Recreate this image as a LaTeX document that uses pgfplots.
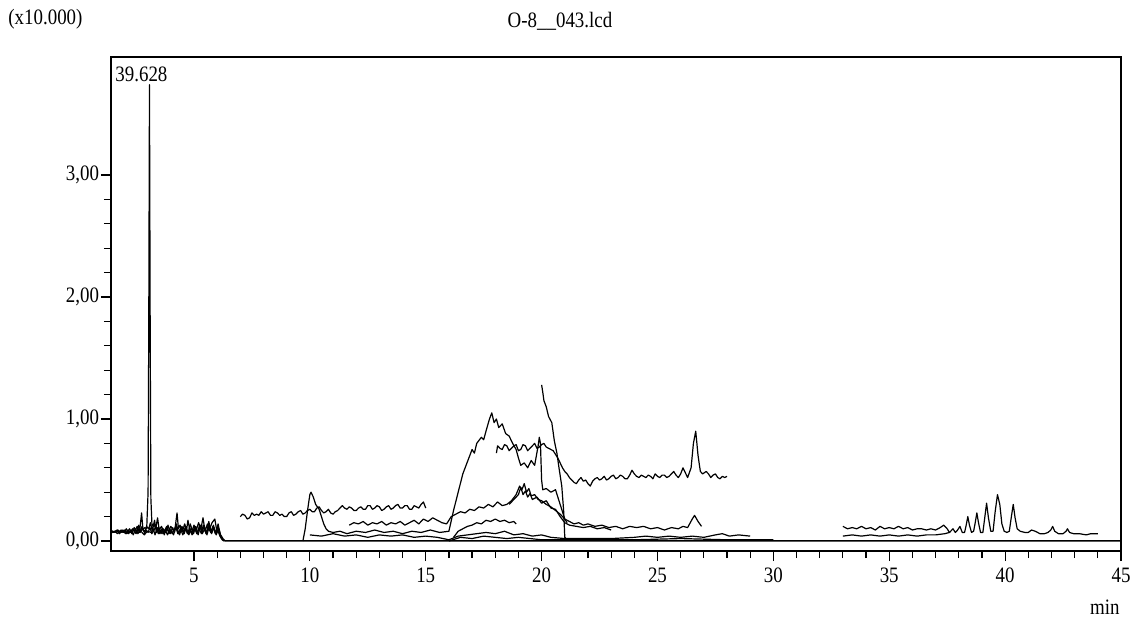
\documentclass[border=0pt]{standalone}
\usepackage{fontspec}
\setmainfont{Liberation Serif}[FakeStretch=0.86]
\usepackage{pgfplots}
\pgfplotsset{compat=1.18}

\begin{document}
\begin{tikzpicture}[font=\fontsize{11bp}{13bp}\selectfont]
\useasboundingbox (-55.5bp,-35bp) rectangle (512.5bp,275.5bp);
\begin{axis}[
    at={(0,0)}, anchor=south west,
    scale only axis,
    width=505bp, height=247bp,
    xmin=1.42, xmax=45,
    ymin=-0.082, ymax=3.967,
    xtick={5,10,...,45},
    minor x tick num=4,
    ytick={0,1,2,3},
    minor y tick num=4,
    tick pos=left,
    tick align=outside,
    major tick length=5bp,
    minor tick length=3.5bp,
    axis line style={line width=0.8bp},
    tick style={line width=0.6bp, black},
    /pgf/number format/assume math mode=true,
    yticklabel style={inner sep=0.8bp, /pgf/number format/.cd, fixed, fixed zerofill, precision=2, use comma},
    no markers,
    cycle list={{black}},
    every axis plot post/.append style={black, mark=none, line width=0.6bp, line join=round},
    clip=true,
]
% left noisy traces with main peak
\addplot[line width=0.8bp] coordinates {
(1.42,0.08) (1.55,0.075) (1.65,0.085) (1.75,0.07) (1.85,0.09) (1.95,0.08) (2.05,0.06) (2.15,0.09)
(2.25,0.07) (2.35,0.10) (2.45,0.08) (2.55,0.12) (2.65,0.07) (2.74,0.23) (2.80,0.09) (2.88,0.11)
(2.96,0.10) (3.02,0.40) (3.05,1.80) (3.08,3.74) (3.11,1.80) (3.14,0.35) (3.19,0.12) (3.27,0.14)
(3.35,0.10) (3.43,0.19) (3.50,0.09) (3.60,0.12) (3.70,0.07) (3.80,0.11) (3.90,0.08) (4.00,0.12)
(4.10,0.09) (4.18,0.10) (4.27,0.23) (4.33,0.10) (4.40,0.13) (4.50,0.08) (4.60,0.14) (4.68,0.09)
(4.74,0.17) (4.82,0.09) (4.90,0.07) (5.00,0.13) (5.10,0.09) (5.20,0.15) (5.30,0.10) (5.39,0.19)
(5.48,0.08) (5.58,0.14) (5.68,0.10) (5.78,0.15) (5.90,0.18) (5.98,0.09) (6.05,0.11) (6.15,0.05)
(6.25,0.02) (6.35,0.00) (45,0.00)
};
\addplot[line width=0.8bp] coordinates {
(1.42,0.09) (1.52,0.07) (1.62,0.08) (1.72,0.09) (1.82,0.07) (1.92,0.09) (2.02,0.08) (2.12,0.07)
(2.22,0.10) (2.32,0.06) (2.42,0.11) (2.52,0.07) (2.62,0.13) (2.70,0.08) (2.80,0.10) (2.88,0.06)
(2.95,0.12) (3.05,0.10) (3.12,0.15) (3.20,0.08) (3.30,0.17) (3.38,0.07) (3.48,0.11) (3.58,0.06)
(3.68,0.10) (3.78,0.07) (3.88,0.13) (3.98,0.06) (4.08,0.11) (4.16,0.07) (4.24,0.14) (4.34,0.06)
(4.44,0.11) (4.54,0.07) (4.64,0.12) (4.74,0.06) (4.84,0.14) (4.94,0.08) (5.04,0.11) (5.14,0.06)
(5.24,0.13) (5.34,0.07) (5.44,0.12) (5.54,0.06) (5.64,0.16) (5.74,0.07) (5.84,0.13) (5.94,0.06)
(6.04,0.14) (6.14,0.05) (6.25,0.01) (6.35,0.00)
};
\addplot[line width=0.8bp] coordinates {
(1.42,0.07) (1.58,0.08) (1.70,0.06) (1.80,0.08) (1.90,0.07) (2.00,0.09) (2.10,0.06) (2.20,0.08)
(2.30,0.07) (2.40,0.09) (2.50,0.06) (2.60,0.10) (2.68,0.07) (2.76,0.12) (2.84,0.08) (2.93,0.09)
(3.02,0.07) (3.10,0.11) (3.18,0.06) (3.28,0.09) (3.36,0.12) (3.46,0.06) (3.56,0.09) (3.66,0.06)
(3.76,0.09) (3.86,0.05) (3.96,0.10) (4.06,0.06) (4.14,0.09) (4.22,0.12) (4.30,0.06) (4.42,0.10)
(4.52,0.05) (4.62,0.10) (4.72,0.06) (4.82,0.09) (4.92,0.05) (5.02,0.11) (5.12,0.06) (5.22,0.10)
(5.32,0.06) (5.40,0.13) (5.52,0.06) (5.62,0.11) (5.72,0.07) (5.82,0.12) (5.92,0.06) (6.02,0.09)
(6.12,0.04) (6.22,0.01) (6.30,0.00)
};
\addplot[line width=0.8bp] coordinates {
(1.42,0.06) (1.50,0.08) (1.60,0.07) (1.68,0.09) (1.78,0.06) (1.88,0.08) (1.98,0.07) (2.08,0.10)
(2.18,0.06) (2.28,0.09) (2.38,0.05) (2.48,0.10) (2.58,0.06) (2.66,0.09) (2.86,0.05) (2.98,0.08)
(3.16,0.07) (3.24,0.10) (3.32,0.05) (3.42,0.11) (3.52,0.06) (3.62,0.10) (3.72,0.05) (3.82,0.12)
(3.92,0.06) (4.02,0.09) (4.12,0.05) (4.20,0.11) (4.38,0.05) (4.48,0.12) (4.58,0.06) (4.66,0.11)
(4.78,0.05) (4.88,0.11) (4.98,0.06) (5.08,0.12) (5.18,0.05) (5.28,0.13) (5.36,0.06) (5.46,0.10)
(5.56,0.05) (5.66,0.12) (5.76,0.06) (5.86,0.11) (5.96,0.05) (6.06,0.10) (6.16,0.03) (6.28,0.00)
};
% trace 7 - 15 min
\addplot coordinates {
(7.0,0.20) (7.1,0.22) (7.2,0.21) (7.3,0.18) (7.4,0.19) (7.5,0.23) (7.6,0.21) (7.7,0.22) (7.8,0.21)
(7.9,0.24) (8.0,0.22) (8.1,0.23) (8.2,0.24) (8.3,0.21) (8.4,0.21) (8.5,0.24) (8.6,0.23) (8.7,0.21)
(8.8,0.22) (8.9,0.20) (9.0,0.20) (9.1,0.23) (9.2,0.24) (9.3,0.21) (9.4,0.22) (9.5,0.24) (9.6,0.25)
(9.7,0.22) (9.8,0.23) (9.9,0.25) (10.0,0.26) (10.1,0.24) (10.2,0.24) (10.3,0.27) (10.4,0.28)
(10.5,0.25) (10.6,0.23) (10.7,0.24) (10.8,0.26) (10.9,0.23) (11.0,0.22) (11.1,0.24) (11.2,0.25)
(11.3,0.27) (11.4,0.29) (11.5,0.27) (11.6,0.26) (11.7,0.28) (11.8,0.27) (11.9,0.25) (12.0,0.25)
(12.1,0.27) (12.2,0.28) (12.3,0.26) (12.4,0.26) (12.5,0.29) (12.6,0.29) (12.7,0.26) (12.8,0.27)
(12.9,0.29) (13.0,0.28) (13.1,0.25) (13.2,0.26) (13.3,0.28) (13.4,0.29) (13.5,0.26) (13.6,0.27)
(13.7,0.29) (13.8,0.30) (13.9,0.27) (14.0,0.27) (14.1,0.29) (14.2,0.29) (14.3,0.26) (14.4,0.26)
(14.5,0.29) (14.6,0.28) (14.7,0.27) (14.8,0.30) (14.9,0.32) (15.0,0.27)
};
% peak at 10 min, then the broad hump
\addplot coordinates {
(9.70,0.00) (9.80,0.10) (9.90,0.25) (10.00,0.38) (10.05,0.40) (10.15,0.36) (10.25,0.30)
(10.40,0.26) (10.50,0.20) (10.60,0.14) (10.70,0.10) (10.80,0.08) (11.0,0.07) (11.3,0.08)
(11.6,0.06) (12.0,0.08) (12.4,0.07) (12.8,0.09) (13.2,0.07) (13.6,0.08) (14.0,0.06) (14.4,0.08)
(14.8,0.07) (15.2,0.09) (15.6,0.07) (16.0,0.08) (16.2,0.25) (16.4,0.40) (16.6,0.55) (16.8,0.65)
(17.0,0.75) (17.1,0.72) (17.2,0.80) (17.4,0.85) (17.5,0.83) (17.6,0.90) (17.75,1.00) (17.85,1.05)
(17.95,0.97) (18.05,1.00) (18.15,0.93) (18.30,0.96) (18.45,0.88) (18.60,0.86) (18.75,0.80)
(18.90,0.75) (19.00,0.68) (19.10,0.62) (19.25,0.64) (19.40,0.60) (19.55,0.66) (19.70,0.62)
(19.85,0.78) (19.90,0.85) (19.95,0.80) (20.00,0.50) (20.05,0.42) (20.20,0.43) (20.40,0.40)
(20.60,0.42) (20.80,0.30) (21.00,0.18) (21.10,0.15)
};
% trace 18 - 28 min
\addplot coordinates {
(18.05,0.72) (18.1,0.78) (18.2,0.76) (18.3,0.75) (18.4,0.79) (18.5,0.78) (18.6,0.74) (18.7,0.76)
(18.8,0.78) (18.9,0.79) (19.0,0.74) (19.1,0.75) (19.2,0.79) (19.3,0.78) (19.4,0.74) (19.5,0.76)
(19.6,0.78) (19.7,0.80) (19.8,0.76) (19.9,0.77) (20.0,0.79) (20.1,0.80) (20.2,0.77) (20.3,0.76)
(20.4,0.75) (20.5,0.74) (20.6,0.71) (20.7,0.68) (20.8,0.64) (20.9,0.60) (21.0,0.57) (21.1,0.55)
(21.2,0.52) (21.3,0.50) (21.4,0.48) (21.5,0.47) (21.6,0.50) (21.7,0.52) (21.8,0.49) (21.9,0.50)
(22.0,0.47) (22.1,0.45) (22.2,0.49) (22.3,0.51) (22.4,0.52) (22.5,0.50) (22.6,0.51) (22.7,0.53)
(22.8,0.50) (22.9,0.51) (23.0,0.53) (23.1,0.54) (23.2,0.51) (23.3,0.52) (23.4,0.54) (23.5,0.53)
(23.6,0.51) (23.7,0.51) (23.8,0.54) (23.9,0.58) (24.0,0.55) (24.1,0.53) (24.2,0.52) (24.3,0.54)
(24.4,0.53) (24.5,0.52) (24.6,0.54) (24.7,0.53) (24.8,0.51) (24.9,0.55) (25.0,0.53) (25.1,0.52)
(25.2,0.54) (25.3,0.54) (25.4,0.52) (25.5,0.53) (25.6,0.55) (25.7,0.57) (25.8,0.54) (25.9,0.52)
(26.0,0.55) (26.1,0.60) (26.2,0.56) (26.3,0.52) (26.45,0.60) (26.55,0.80) (26.65,0.90)
(26.75,0.70) (26.85,0.57) (26.95,0.55) (27.1,0.57) (27.2,0.55) (27.3,0.52) (27.4,0.54)
(27.5,0.55) (27.6,0.52) (27.7,0.51) (27.8,0.53) (27.9,0.52) (28.0,0.53)
};
% steep line after 20 min
\addplot coordinates {
(20.00,1.28) (20.05,1.22) (20.10,1.15) (20.20,1.10) (20.30,1.02) (20.44,0.97) (20.55,0.82)
(20.66,0.72) (20.75,0.60) (20.87,0.45) (20.95,0.25) (21.00,0.03) (21.10,0.01)
};
% trace 11.7 - 26.9 min
\addplot coordinates {
(11.7,0.13) (11.9,0.15) (12.1,0.14) (12.3,0.16) (12.5,0.13) (12.7,0.15) (12.9,0.14) (13.1,0.16)
(13.3,0.13) (13.5,0.15) (13.7,0.14) (13.9,0.16) (14.1,0.13) (14.3,0.15) (14.5,0.17) (14.7,0.14)
(14.9,0.18) (15.1,0.16) (15.3,0.19) (15.5,0.17) (15.7,0.15) (15.9,0.14) (16.1,0.20) (16.3,0.22)
(16.5,0.24) (16.7,0.23) (16.9,0.26) (17.1,0.25) (17.3,0.28) (17.5,0.27) (17.7,0.30) (17.9,0.28)
(18.1,0.32) (18.3,0.29) (18.5,0.30) (18.7,0.33) (18.9,0.38) (19.05,0.45) (19.15,0.42) (19.25,0.47)
(19.35,0.40) (19.45,0.43) (19.55,0.37) (19.70,0.38) (19.85,0.34) (20.0,0.33) (20.2,0.30)
(20.4,0.28) (20.6,0.25) (20.8,0.22) (21.0,0.18) (21.2,0.16) (21.4,0.14) (21.6,0.15) (21.8,0.13)
(22.0,0.14) (22.3,0.12) (22.6,0.13) (22.9,0.11) (23.2,0.12) (23.5,0.10) (23.8,0.12) (24.1,0.11)
(24.4,0.12) (24.7,0.10) (25.0,0.11) (25.3,0.09) (25.6,0.11) (25.9,0.10) (26.1,0.12) (26.3,0.11)
(26.5,0.18) (26.6,0.21) (26.75,0.16) (26.9,0.12)
};
\addplot coordinates {
(18.6,0.30) (18.8,0.34) (19.0,0.38) (19.1,0.44) (19.2,0.38) (19.3,0.41) (19.4,0.36) (19.5,0.39)
(19.6,0.34) (19.8,0.36) (20.0,0.31) (20.2,0.33) (20.4,0.27) (20.6,0.26) (20.8,0.20) (21.0,0.15)
(21.2,0.13) (21.5,0.12) (21.8,0.11) (22.1,0.12) (22.4,0.10) (22.7,0.11) (23.0,0.09)
};
% small hump 16 - 19 min
\addplot coordinates {
(16.2,0.03) (16.4,0.08) (16.6,0.10) (16.8,0.12) (17.0,0.13) (17.2,0.15) (17.4,0.14) (17.6,0.17)
(17.8,0.16) (18.0,0.18) (18.2,0.16) (18.4,0.17) (18.6,0.15) (18.8,0.16) (18.9,0.14)
};
% low traces
\addplot coordinates {
(10.0,0.05) (10.5,0.04) (11.0,0.06) (11.5,0.04) (12.0,0.05) (12.5,0.03) (13.0,0.05) (13.5,0.04)
(14.0,0.05) (14.5,0.03) (15.0,0.04) (15.5,0.03) (16.0,0.01) (16.4,0.04) (16.8,0.05) (17.2,0.06)
(17.6,0.07) (18.0,0.06) (18.4,0.08) (18.8,0.05) (19.2,0.06) (19.6,0.04) (20.0,0.05) (20.4,0.03)
(21.0,0.02) (22.0,0.02) (23.0,0.02) (24.0,0.03) (24.5,0.04) (25.0,0.03) (25.5,0.04) (26.0,0.03)
(26.5,0.04) (27.0,0.03) (27.5,0.05) (27.8,0.06) (28.1,0.04) (28.5,0.05) (29.0,0.04)
};
\addplot coordinates {
(16.0,0.00) (16.5,0.03) (17.0,0.02) (17.5,0.04) (18.0,0.03) (18.5,0.02) (19.0,0.03) (20.0,0.01)
(22.0,0.01) (24.0,0.01) (26.0,0.02) (28.0,0.01) (30.0,0.01)
};
% trace 33 - 44 min
\addplot coordinates {
(33.0,0.12) (33.2,0.10) (33.4,0.11) (33.6,0.10) (33.8,0.12) (34.0,0.10) (34.2,0.11) (34.4,0.09)
(34.6,0.12) (34.8,0.10) (35.0,0.11) (35.2,0.10) (35.4,0.12) (35.6,0.10) (35.8,0.11) (36.0,0.09)
(36.2,0.10) (36.4,0.10) (36.6,0.09) (36.8,0.10) (37.0,0.09) (37.2,0.11) (37.35,0.13) (37.5,0.10)
(37.6,0.07) (37.75,0.10) (37.85,0.07) (37.95,0.09) (38.05,0.12) (38.15,0.07) (38.25,0.07)
(38.32,0.13) (38.39,0.20) (38.46,0.13) (38.55,0.07) (38.64,0.08) (38.71,0.15) (38.78,0.23)
(38.85,0.15) (38.94,0.07) (39.04,0.07) (39.12,0.19) (39.20,0.31) (39.28,0.19) (39.38,0.08)
(39.48,0.08) (39.57,0.24) (39.67,0.38) (39.77,0.30) (39.86,0.14) (39.96,0.08) (40.08,0.07)
(40.18,0.08) (40.27,0.20) (40.35,0.30) (40.43,0.19) (40.52,0.10) (40.65,0.08) (40.85,0.07)
(41.00,0.07) (41.14,0.09) (41.30,0.08) (41.50,0.06) (41.70,0.06) (41.85,0.07) (41.97,0.09)
(42.05,0.12) (42.14,0.08) (42.30,0.06) (42.50,0.06) (42.63,0.08) (42.69,0.10) (42.78,0.07)
(42.95,0.06) (43.2,0.06) (43.5,0.05) (43.7,0.06) (44.0,0.06)
};
\addplot coordinates {
(33.0,0.04) (33.4,0.05) (33.8,0.04) (34.2,0.05) (34.6,0.04) (35.0,0.05) (35.4,0.04) (35.8,0.05)
(36.2,0.04) (36.6,0.05) (37.0,0.05) (37.4,0.06) (37.6,0.07)
};
\addplot[line width=1bp] coordinates {(6.3,0.005) (44,0.005)};
\addplot[gray, line width=1bp] coordinates {(44,0.005) (45,0.005)};
\end{axis}
\node[anchor=west, inner sep=0] at (-51.5bp,266bp) {(x10.000)};
\node[inner sep=0] at (224.5bp,265bp) {O-8\_\_043.lcd};
\node[anchor=east, inner sep=0] at (504.5bp,-28bp) {min};
\node[anchor=west, inner sep=0] at (2bp,238.5bp) {39.628};
\end{tikzpicture}
\end{document}
